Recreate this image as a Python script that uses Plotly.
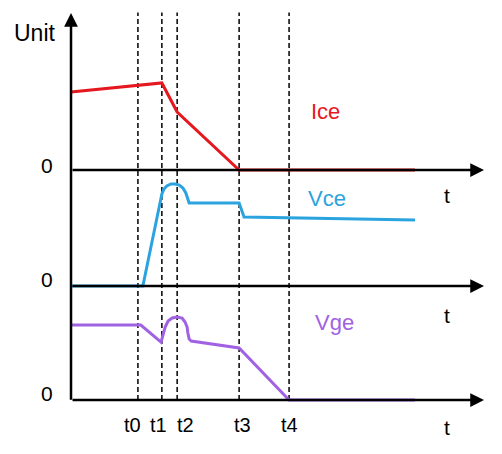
import plotly.graph_objects as go

# ---- data (arbitrary time units / arbitrary amplitude units) ----
event_names = ["t0", "t1", "t2", "t3", "t4"]
event_times = [1.62, 2.20, 2.57, 4.07, 5.28]
event_label_x = [1.48, 2.11, 2.78, 4.14, 5.30]

ice_t = [0.0, 2.20, 2.57, 4.07, 8.33]
ice_v = [6.78, 7.57, 5.04, 0.0, 0.0]

vce_t = [0.0, 1.74, 2.18, 2.20, 2.25, 2.32, 2.42, 2.52, 2.62, 2.71, 2.78, 2.83, 2.86, 4.07, 4.19, 8.33]
vce_v = [0.0, 0.0, 7.65, 8.00, 8.43, 8.70, 8.87, 8.87, 8.78, 8.52, 8.09, 7.57, 7.22, 7.22, 6.00, 5.74]

vge_t = [0.0, 1.69, 2.18, 2.23, 2.28, 2.35, 2.45, 2.57, 2.69, 2.76, 2.81, 2.83, 2.86, 2.91, 4.07, 5.28, 8.33]
vge_v = [6.52, 6.52, 5.04, 5.74, 6.35, 6.87, 7.13, 7.22, 7.13, 6.78, 6.35, 5.83, 5.30, 5.13, 4.52, 0.0, 0.0]

series_names = ["Ice", "Vce", "Vge"]
series_colors = ["#e5171f", "#2ba3de", "#a062e3"]

T_END = 10.0
FONT = "Liberation Sans, Arial, sans-serif"

fig = go.Figure()
fig.add_trace(go.Scatter(x=ice_t, y=ice_v, mode="lines", yaxis="y",
                         line=dict(color=series_colors[0], width=3), hoverinfo="skip"))
fig.add_trace(go.Scatter(x=vce_t, y=vce_v, mode="lines", yaxis="y2",
                         line=dict(color=series_colors[1], width=3), hoverinfo="skip"))
fig.add_trace(go.Scatter(x=vge_t, y=vge_v, mode="lines", yaxis="y3",
                         line=dict(color=series_colors[2], width=3), hoverinfo="skip"))

# px per unit scaling (same on all three panels)
S = 11.5
plot_top, plot_bot = 5, 410
zero_px = [170, 286, 400]
ranges = [[-(plot_bot - z) / S, (z - plot_top) / S] for z in zero_px]

shapes = []
for tt in event_times:
    shapes.append(dict(type="line", xref="x", yref="y3", x0=tt, x1=tt, y0=0, y1=33.7,
                       line=dict(color="black", width=1.5, dash="5px,3px"), layer="below"))

annotations = []
# horizontal axes with arrows
for yr in ["y", "y2", "y3"]:
    annotations.append(dict(xref="x", yref=yr, x=T_END, y=0, axref="x", ayref=yr, ax=0, ay=0,
                            text="", showarrow=True, arrowhead=2, arrowsize=1.1,
                            arrowwidth=2.5, arrowcolor="black", standoff=0, startstandoff=0))
# vertical axis
annotations.append(dict(xref="x", yref="y3", x=0, y=33.65, axref="x", ayref="y3", ax=0, ay=-0.1,
                        text="", showarrow=True, arrowhead=2, arrowsize=1.1,
                        arrowwidth=2.5, arrowcolor="black", standoff=0, startstandoff=0))

def px2paper_y(py):
    return (plot_bot - py) / (plot_bot - plot_top)

L, R = 58, 6
W = 502 - L - R
def px2paper_x(px):
    return (px - L) / W

def label(xref, x, y, text, size, color="black"):
    return dict(xref=xref, yref="paper", x=x, y=y, text=text, showarrow=False,
                xanchor="center", yanchor="middle",
                font=dict(size=size, color=color, family=FONT))

annotations.append(label("paper", px2paper_x(35), px2paper_y(33), "Unit", 23))
for py in [166, 279, 393]:
    annotations.append(label("paper", px2paper_x(47), px2paper_y(py), "0", 21))
for py in [195, 315, 427]:
    annotations.append(label("x", 9.10, px2paper_y(py), "t", 21))
for name, lx in zip(event_names, event_label_x):
    annotations.append(label("x", lx, px2paper_y(425), name, 20))
label_pos = [(6.15, 112), (6.20, 198), (6.39, 322)]
for name, col, (lx, py) in zip(series_names, series_colors, label_pos):
    annotations.append(label("x", lx, px2paper_y(py), name, 22, col))

fig.update_layout(
    width=502, height=454,
    margin=dict(l=L, r=R, t=plot_top, b=454 - plot_bot, pad=0),
    paper_bgcolor="white", plot_bgcolor="white",
    showlegend=False,
    xaxis=dict(range=[-0.315, 10.29], visible=False, fixedrange=True),
    yaxis=dict(range=ranges[0], visible=False, fixedrange=True),
    yaxis2=dict(range=ranges[1], visible=False, overlaying="y", fixedrange=True),
    yaxis3=dict(range=ranges[2], visible=False, overlaying="y", fixedrange=True),
    shapes=shapes,
    annotations=annotations,
)

fig.write_html("out.html", config={"displayModeBar": False},
               post_script="document.body.style.margin='0';document.body.style.overflow='hidden';")
